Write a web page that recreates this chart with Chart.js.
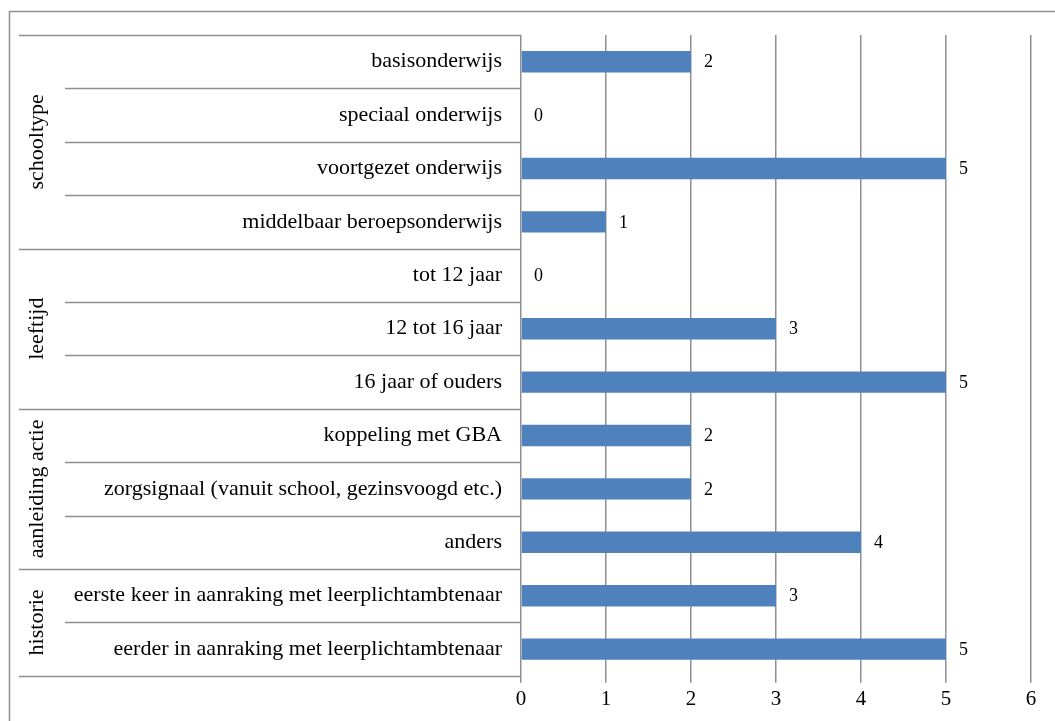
<!DOCTYPE html>
<html>
<head>
<meta charset="utf-8">
<script src="https://cdn.jsdelivr.net/npm/chart.js@4"></script>
<style>
  html, body { margin: 0; padding: 0; background: #fff; }
  #wrap { position: absolute; left: 0; top: 0; width: 1055px; height: 721px; }
</style>
</head>
<body>
<div id="wrap"><canvas id="c" width="1055" height="721"></canvas></div>
<script>
// ---- data ----
const categories = [
  "basisonderwijs",
  "speciaal onderwijs",
  "voortgezet onderwijs",
  "middelbaar beroepsonderwijs",
  "tot 12 jaar",
  "12 tot 16 jaar",
  "16 jaar of ouders",
  "koppeling met GBA",
  "zorgsignaal (vanuit school, gezinsvoogd etc.)",
  "anders",
  "eerste keer in aanraking met leerplichtambtenaar",
  "eerder in aanraking met leerplichtambtenaar"
];
const values = [2, 0, 5, 1, 0, 3, 5, 2, 2, 4, 3, 5];
const groupNames = ["schooltype", "leeftijd", "aanleiding actie", "historie"];
const groupSizes = [4, 3, 3, 2];
const xTicks = [0, 1, 2, 3, 4, 5, 6];

const FONT = "'Liberation Serif', 'Times New Roman', serif";
const GRID = "#8f8f8f";

const decorPlugin = {
  id: "decor",
  afterDraw(chart) {
    const ctx = chart.ctx;
    const y = chart.scales.y;
    const area = chart.chartArea;
    const n = categories.length;
    const bounds = [];
    for (let i = 0; i <= n; i++) {
      let py;
      if (i === 0) py = area.top;
      else if (i === n) py = area.bottom;
      else py = (y.getPixelForValue(i - 1) + y.getPixelForValue(i)) / 2;
      bounds.push(py);
    }
    const groupStarts = new Set();
    let acc = 0;
    groupStarts.add(0);
    groupSizes.forEach(s => { acc += s; groupStarts.add(acc); });
    ctx.save();
    ctx.strokeStyle = GRID;
    ctx.lineWidth = 1.5;
    bounds.forEach((py, i) => {
      const x0 = groupStarts.has(i) ? 19 : 65;
      ctx.beginPath();
      ctx.moveTo(x0, Math.round(py) + 0.5);
      ctx.lineTo(area.left, Math.round(py) + 0.5);
      ctx.stroke();
    });
    // outer border
    ctx.beginPath();
    ctx.moveTo(9.5, 740);
    ctx.lineTo(9.5, 11.5);
    ctx.lineTo(1060, 11.5);
    ctx.stroke();
    // group labels
    ctx.fillStyle = "#000";
    ctx.font = "22px " + FONT;
    ctx.textAlign = "center";
    ctx.textBaseline = "middle";
    let start = 0;
    groupNames.forEach((g, gi) => {
      const end = start + groupSizes[gi];
      const cy = (bounds[start] + bounds[end]) / 2;
      ctx.save();
      ctx.translate(37, cy);
      ctx.rotate(-Math.PI / 2);
      ctx.fillText(g, 0, 0);
      ctx.restore();
      start = end;
    });
    // data labels
    ctx.font = "18px " + FONT;
    ctx.textAlign = "left";
    const meta = chart.getDatasetMeta(0);
    meta.data.forEach((bar, i) => {
      ctx.fillText(String(values[i]), bar.x + 13, bar.y + 1);
    });
    ctx.restore();
  }
};

new Chart(document.getElementById("c"), {
  type: "bar",
  data: {
    labels: categories,
    datasets: [{
      data: values,
      backgroundColor: "#4f81bd",
      borderWidth: 0,
      barPercentage: 0.4,
      categoryPercentage: 1.0
    }]
  },
  options: {
    indexAxis: "y",
    responsive: false,
    animation: false,
    devicePixelRatio: 1,
    layout: { padding: { top: 35, right: 24, bottom: 5, left: 0 } },
    plugins: { legend: { display: false }, tooltip: { enabled: false } },
    scales: {
      x: {
        min: 0, max: 6,
        afterBuildTicks(scale) { scale.ticks = xTicks.map(v => ({ value: v })); },
        ticks: { color: "#000", font: { family: FONT, size: 21 }, padding: 4 },
        grid: { color: GRID, lineWidth: 1.5, tickLength: 7, drawTicks: true },
        border: { display: false }
      },
      y: {
        afterFit(scale) { scale.width = 521; },
        ticks: { color: "#000", font: { family: FONT, size: 22 }, padding: 19, autoSkip: false },
        grid: { display: false, drawTicks: false },
        border: { display: false }
      }
    }
  },
  plugins: [decorPlugin]
});
</script>
</body>
</html>
